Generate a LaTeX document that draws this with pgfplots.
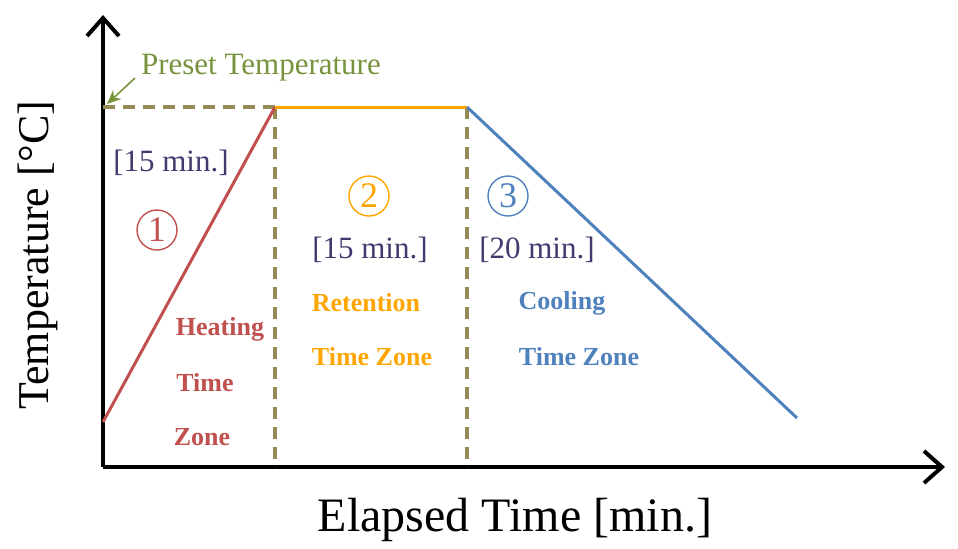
\documentclass[border=0pt]{standalone}
\usepackage{pgfplots}
\pgfplotsset{compat=1.18}
\usepackage{fontspec}
\setmainfont{Liberation Serif}
\usetikzlibrary{arrows.meta}

\definecolor{heatred}{RGB}{192,80,77}
\definecolor{keeporange}{RGB}{255,165,0}
\definecolor{coolblue}{RGB}{79,129,189}
\definecolor{dasholive}{RGB}{148,138,84}
\definecolor{presetgreen}{RGB}{119,147,60}
\definecolor{mintext}{RGB}{70,55,110}

\begin{document}
\begin{tikzpicture}[
    circnum/.style={circle, draw, line width=0.7pt, minimum size=20pt, inner sep=0pt,
        font=\fontsize{18}{20}\selectfont},
    zone/.style={font=\bfseries\fontsize{13}{16}\selectfont},
    mins/.style={mintext, font=\fontsize{15.5}{18}\selectfont},
]
\begin{axis}[
    x=0.5pt, y=0.5pt,
    xmin=0, xmax=842,
    ymin=0, ymax=452,
    enlargelimits=false,
    axis lines=left,
    axis line style={line width=2pt, black,
        -{Straight Barb[length=9pt,width=16pt,line width=2pt]}},
    xtick=\empty, ytick=\empty,
    clip=false,
]
    % guide lines
    \addplot[dasholive, line width=1.7pt, dash pattern=on 6pt off 4pt]
        coordinates {(0,360) (172,360)};
    \addplot[dasholive, line width=1.7pt, dash pattern=on 6pt off 4pt]
        coordinates {(172,360) (172,0)};
    \addplot[dasholive, line width=1.7pt, dash pattern=on 6pt off 4pt]
        coordinates {(364,360) (364,0)};

    % heating / retention / cooling
    \addplot[heatred, line width=1.5pt] coordinates {(0,45) (172,360)};
    \addplot[keeporange, line width=1.5pt] coordinates {(172,360) (364,360)};
    \addplot[coolblue, line width=1.5pt] coordinates {(364,360) (694,49)};

    % labels
    \node[rotate=90, font=\fontsize{22}{26}\selectfont] at (axis cs:-65,212) {Temperature [°C]};
    \node[font=\fontsize{24}{28}\selectfont] at (axis cs:412,-53) {Elapsed Time [min.]};

    \node[anchor=west, presetgreen, font=\fontsize{15.5}{18}\selectfont] at (axis cs:31,399) {Preset Temperature};
    \draw[presetgreen, line width=0.8pt, -{Stealth[length=7pt,width=6pt]}] (axis cs:32,389) -- (axis cs:4,363);

    \node[mins] at (axis cs:68,304) {[15 min.]};
    \node[mins] at (axis cs:267,217) {[15 min.]};
    \node[mins] at (axis cs:434,217) {[20 min.]};

    \node[circnum, heatred] at (axis cs:54,237) {1};
    \node[circnum, keeporange] at (axis cs:266,271) {2};
    \node[circnum, coolblue] at (axis cs:405,271) {3};

    \node[zone, heatred] at (axis cs:117,138) {Heating};
    \node[zone, heatred] at (axis cs:102,84) {Time};
    \node[zone, heatred] at (axis cs:99,30) {Zone};

    \node[zone, keeporange] at (axis cs:263,164) {Retention};
    \node[zone, keeporange] at (axis cs:269,110) {Time Zone};

    \node[zone, coolblue] at (axis cs:459,164) {Cooling};
    \node[zone, coolblue] at (axis cs:476,110) {Time Zone};

    \coordinate (bl) at (axis cs:-103,-81);
    \coordinate (tr) at (axis cs:855,467);
\end{axis}
\pgfresetboundingbox
\path[use as bounding box] (bl) rectangle (tr);
\end{tikzpicture}
\end{document}
